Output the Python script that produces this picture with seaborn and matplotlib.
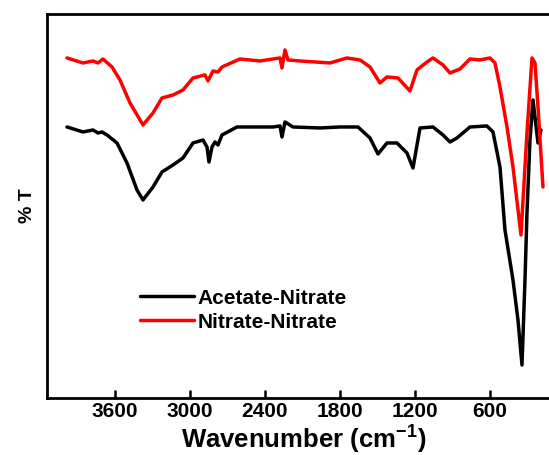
import numpy as np
import pandas as pd
import seaborn as sns
import matplotlib.pyplot as plt

# wavenumber (cm-1) and transmittance (arb. units)
wn_black = [3984, 3856, 3776, 3736, 3704, 3664, 3584, 3504, 3424, 3376, 3296, 3224,
            3136, 3056, 2976, 2896, 2864, 2848, 2824, 2800, 2776, 2744, 2624, 2336,
            2280, 2264, 2240, 2176, 1960, 1800, 1656, 1560, 1496, 1424, 1344, 1264,
            1216, 1160, 1056, 976, 920, 864, 760, 624, 576, 520, 480, 416, 376, 344,
            320, 304, 280, 256, 216, 192]
t_black = [271, 266, 268, 265, 266, 263, 255, 235, 208, 198, 211, 226,
           233, 240, 255, 258, 251, 236, 251, 256, 253, 263, 271, 271,
           272, 261, 276, 271, 270, 271, 271, 260, 244, 255, 255, 245,
           230, 270, 271, 263, 256, 260, 271, 272, 266, 231, 168, 118, 78, 33,
           118, 185, 258, 298, 255, 268]

wn_red = [3984, 3856, 3776, 3736, 3696, 3624, 3560, 3480, 3376, 3296, 3224, 3136,
          3056, 2976, 2880, 2856, 2816, 2776, 2744, 2600, 2440, 2336, 2280, 2264,
          2240, 2216, 2120, 1880, 1744, 1640, 1560, 1480, 1424, 1336, 1240, 1184,
          1104, 1056, 976, 920, 840, 760, 680, 600, 560, 520, 464, 416, 352, 304,
          264, 240, 216, 176]
t_red = [340, 335, 337, 335, 339, 331, 318, 295, 273, 285, 300, 303,
         308, 320, 323, 317, 327, 326, 331, 339, 337, 339, 340, 330,
         348, 338, 337, 335, 340, 338, 331, 315, 321, 320, 307, 328,
         336, 340, 333, 325, 329, 339, 338, 340, 335, 311, 271, 231, 163, 265,
         340, 335, 291, 211]

names = ['Acetate-Nitrate', 'Nitrate-Nitrate']
colors = ['black', '#ff0000']
xticks = [3600, 3000, 2400, 1800, 1200, 600]

df = pd.concat([
    pd.DataFrame({'wn': wn_black, 'T': t_black, 'sample': names[0]}),
    pd.DataFrame({'wn': wn_red, 'T': t_red, 'sample': names[1]}),
])

sns.set_style('ticks', {'axes.edgecolor': 'black', 'text.color': 'black',
                        'xtick.color': 'black', 'axes.labelcolor': 'black'})
plt.rcParams['font.family'] = ['Liberation Sans', 'DejaVu Sans']
plt.rcParams['font.weight'] = 'bold'
plt.rcParams['mathtext.fontset'] = 'custom'
plt.rcParams['mathtext.bf'] = 'Liberation Sans:bold'

fig = plt.figure(figsize=(5.49, 4.55), dpi=100)
ax = fig.add_axes([0.0856, 0.1253, 0.9344, 0.844])

sns.lineplot(data=df, x='wn', y='T', hue='sample', palette=colors, sort=False,
             estimator=None, linewidth=2.5, ax=ax)

ax.set_xlim(4144, 40)
ax.set_ylim(0, 384)
ax.set_xticks(xticks)
ax.set_xticklabels([str(v) for v in xticks], fontsize=15, fontweight='bold')
ax.set_yticks([])
ax.tick_params(axis='x', direction='in', length=6, width=1.8, pad=3)
for s in ['left', 'bottom', 'top']:
    ax.spines[s].set_linewidth(2)
ax.spines['right'].set_visible(False)

ax.set_xlabel(r'Wavenumber (cm$^{\mathbf{-1}}$)', fontsize=18.5, fontweight='bold', labelpad=1)
ax.set_ylabel('% T', fontsize=14, fontweight='bold', labelpad=8)

leg = ax.legend(loc='upper left', bbox_to_anchor=(0.181, 0.285), frameon=False,
                borderpad=0, borderaxespad=0, handlelength=2.6, handletextpad=0.15,
                labelspacing=0.25, prop={'size': 15, 'weight': 'bold'})
for line in leg.get_lines():
    line.set_linewidth(2.5)

fig.savefig('out.png', dpi=100, facecolor='white')
